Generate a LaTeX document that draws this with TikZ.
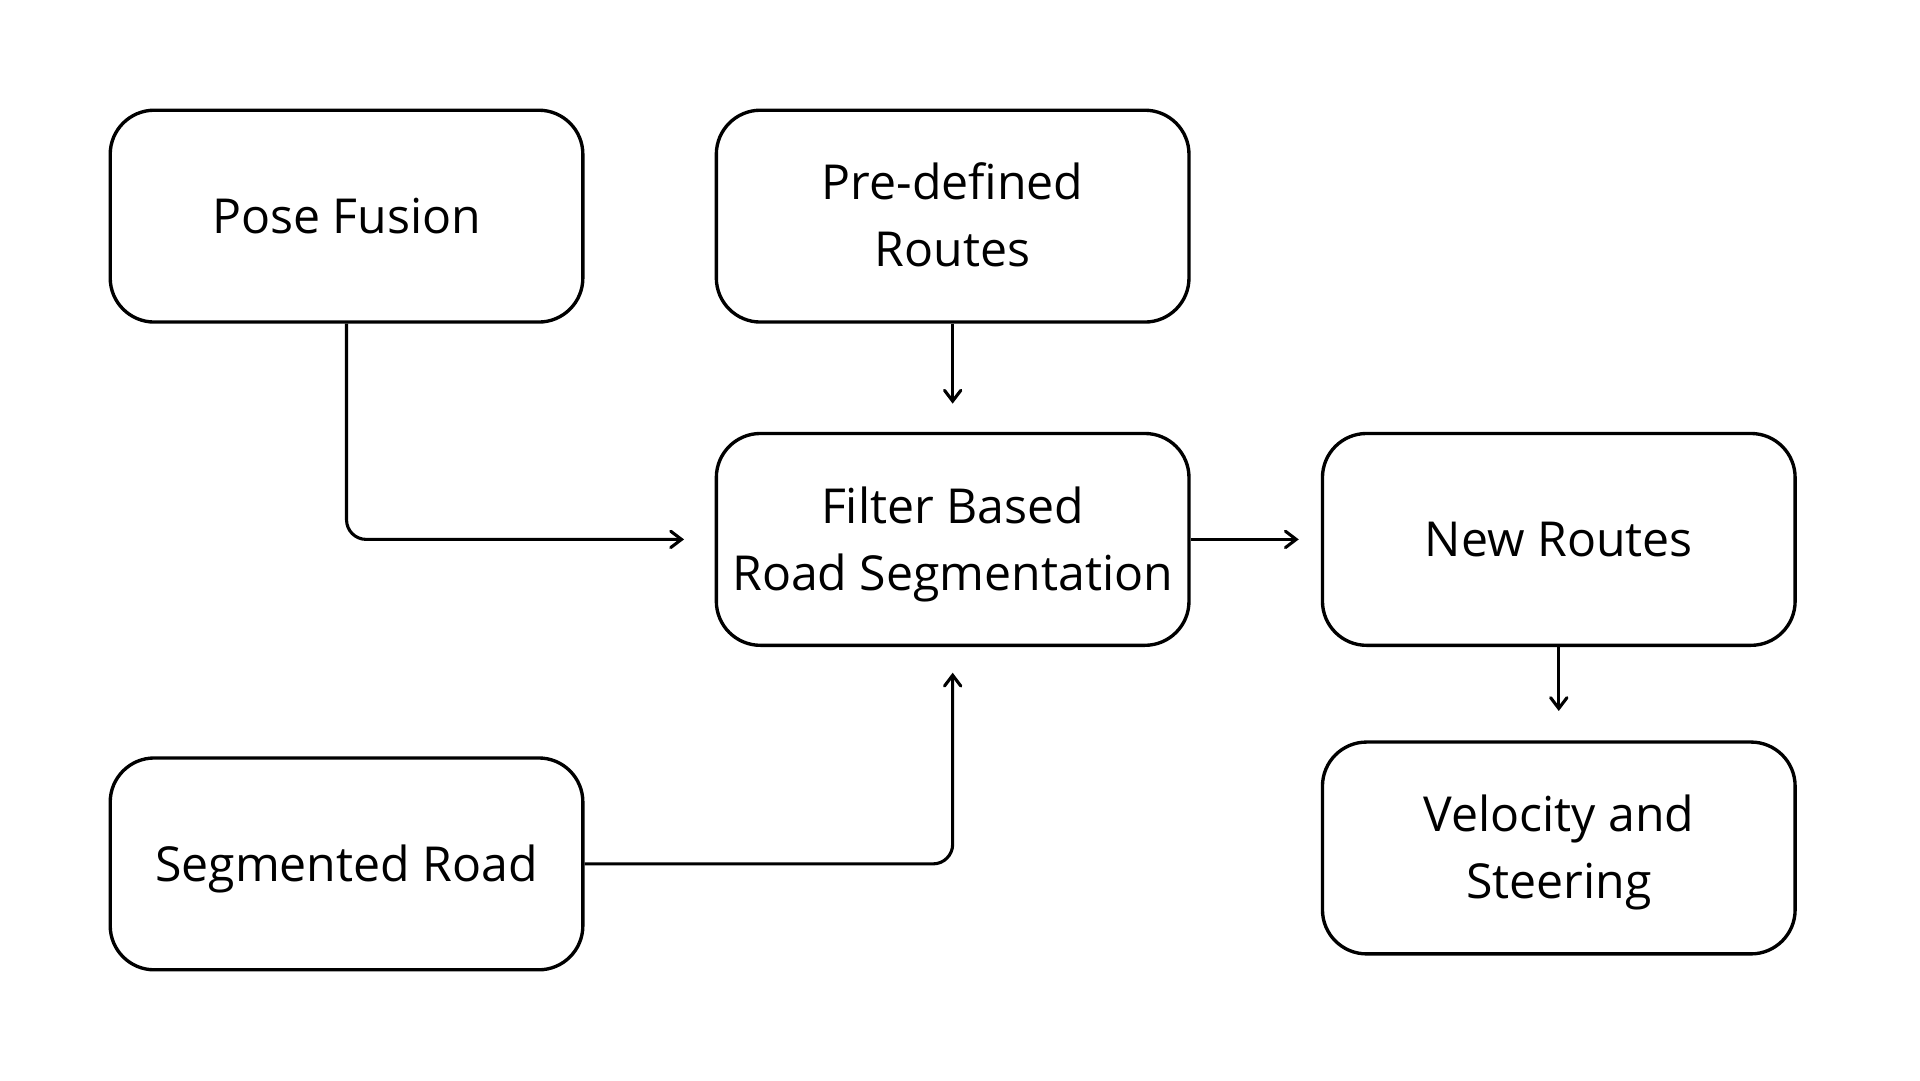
\documentclass[tikz,border=0pt]{standalone}
\usepackage{fontspec}
\setmainfont{Open Sans}
\usetikzlibrary{arrows.meta}
\newcommand{\onel}[1]{\raisebox{0pt}[0.714em][0pt]{#1}}
\newcommand{\twol}[2]{\raisebox{0pt}[\dimexpr15.6pt+0.714em\relax][0pt]{\begin{tabular}[b]{@{}c@{}}#1\\#2\end{tabular}}}
\tikzset{
  box/.style={draw=black, line width=0.78pt, rounded corners=0.36cm, minimum width=3.86cm, minimum height=1.73cm, align=center, font=\fontsize{11.2pt}{15.6pt}\selectfont, inner sep=0pt},
  conn/.style={draw=black, line width=0.72pt, rounded corners=0.16cm, -{Straight Barb[length=2.5pt,width=3.8pt,line cap=round]}}
}
\begin{document}
\begin{tikzpicture}
\fill[white] (0,0) rectangle (15.68,8.82);
\useasboundingbox (0,0) rectangle (15.68,8.82);
\node[box] (pose) at (2.83,7.055) {\onel{Pose Fusion}};
\node[box] (pre) at (7.78,7.055) {\twol{Pre-defined}{Routes}};
\node[box] (filter) at (7.78,4.415) {\twol{Filter Based}{Road Segmentation}};
\node[box] (new) at (12.73,4.415) {\onel{New Routes}};
\node[box] (vel) at (12.73,1.895) {\twol{Velocity and}{Steering}};
\node[box] (seg) at (2.83,1.765) {\onel{Segmented Road}};
\coordinate (a1) at ([xshift=-0.25cm]filter.west);
\coordinate (a2) at ([yshift=0.23cm]filter.north);
\coordinate (a3) at ([xshift=-0.18cm]new.west);
\coordinate (a4) at ([yshift=0.24cm]vel.north);
\coordinate (a5) at ([yshift=-0.21cm]filter.south);
\draw[conn] (pose.south) |- (a1);
\draw[conn] (pre.south) -- (a2);
\draw[conn] (filter.east) -- (a3);
\draw[conn] (new.south) -- (a4);
\draw[conn] (seg.east) -| (a5);
\end{tikzpicture}
\end{document}
